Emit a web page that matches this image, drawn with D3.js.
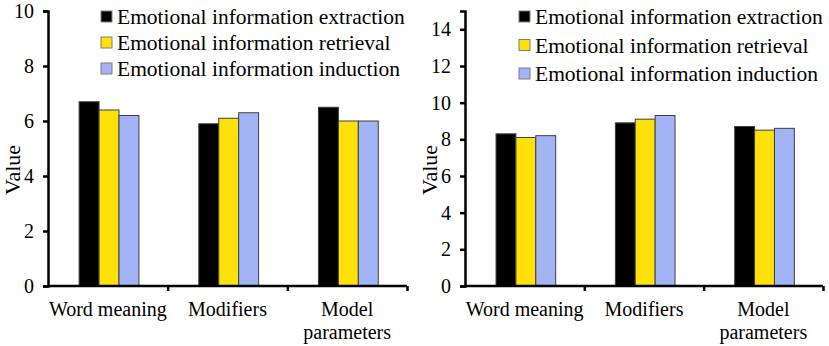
<!DOCTYPE html>
<html><head><meta charset="utf-8">
<script src="https://cdn.jsdelivr.net/npm/d3@7"></script>
<style>body{margin:0;background:#fff}svg{display:block}</style>
</head><body><svg id="c" width="829" height="346" font-family="Liberation Serif"></svg>
<script>
const categories = ["Word meaning", "Modifiers", "Model parameters"];
const seriesNames = ["Emotional information extraction", "Emotional information retrieval", "Emotional information induction"];
const leftExtraction = [6.7, 5.9, 6.5];
const leftRetrieval = [6.4, 6.1, 6.0];
const leftInduction = [6.2, 6.3, 6.0];
const rightExtraction = [8.3, 8.9, 8.7];
const rightRetrieval = [8.1, 9.1, 8.5];
const rightInduction = [8.2, 9.3, 8.6];
const leftTicks = [0, 2, 4, 6, 8, 10];
const rightTicks = [0, 2, 4, 6, 8, 10, 12, 14];
const colors = ["#000000", "#FFE10A", "#A2B4F5"];
const FONT = "Liberation Serif";

const svg = d3.select("#c");

function panel(cfg) {
  const g = svg.append("g");
  const x = d3.scaleBand().domain(categories).range([cfg.x0, cfg.x1]).padding(0);
  const sub = d3.scaleBand().domain(seriesNames).range([x.bandwidth()*0.26, x.bandwidth()*0.76]).padding(0);
  const y = d3.scaleLinear().domain(cfg.domain).range([cfg.y0, cfg.yTop]);
  const series = [cfg.a, cfg.b, cfg.c];
  series.forEach((vals, si) => {
    g.selectAll(null).data(vals).enter().append("rect")
      .attr("x", (d, i) => x(categories[i]) + sub(seriesNames[si]))
      .attr("width", sub.bandwidth())
      .attr("y", d => y(d))
      .attr("height", d => y(0) - y(d))
      .attr("fill", colors[si])
      .attr("stroke", "#404040")
      .attr("stroke-width", 1);
  });
  const ya = g.append("g").attr("transform", `translate(${cfg.x0},0)`)
    .call(d3.axisLeft(y).tickValues(cfg.ticks).tickSize(5).tickPadding(9).tickFormat(d3.format("d")))
    .attr("font-family", FONT).attr("font-size", 20);
  ya.select(".domain").attr("stroke", "#000").attr("stroke-width", 2.5);
  ya.selectAll(".tick line").attr("stroke-width", 2.5);
  ya.selectAll(".tick text").attr("fill", "#000");
  const xa = g.append("g").attr("transform", `translate(0,${cfg.y0})`)
    .call(d3.axisBottom(d3.scaleLinear().domain([0,3]).range([cfg.x0, cfg.x1])).tickValues([1,2,3]).tickSize(5).tickFormat(""));
  xa.select(".domain").attr("stroke", "#000").attr("stroke-width", 2.5).attr("d", `M${cfg.x0},0H${cfg.x1}`);
  xa.selectAll(".tick line").attr("stroke-width", 2.5);
  categories.forEach((c, i) => {
    const lines = c === "Model parameters" ? ["Model", "parameters"] : [c];
    lines.forEach((ln, li) => {
      g.append("text").attr("x", x(c) + x.bandwidth()/2).attr("y", cfg.y0 + 30 + li*23)
        .attr("text-anchor", "middle").attr("font-family", FONT).attr("font-size", 20).text(ln);
    });
  });
  g.append("text").attr("transform", `translate(${cfg.labelX},${cfg.labelY}) rotate(-90)`)
    .attr("text-anchor", "middle").attr("font-family", FONT).attr("font-size", 22).text("Value");
  seriesNames.forEach((s, i) => {
    const yy = cfg.legY + i*cfg.legDy;
    g.append("rect").attr("x", cfg.legX).attr("y", yy - 6).attr("width", 11).attr("height", 11)
      .attr("fill", colors[i]).attr("stroke", "#7f7f7f").attr("stroke-width", 1);
    g.append("text").attr("x", cfg.legX + 16).attr("y", yy + 7).attr("font-family", FONT).attr("font-size", 21.5).text(s);
  });
}

panel({x0: 48, x1: 407, y0: 286, yTop: 11, domain: [0, 10], ticks: leftTicks,
  a: leftExtraction, b: leftRetrieval, c: leftInduction,
  labelX: 20, labelY: 170, legX: 101, legY: 17, legDy: 26});
panel({x0: 465, x1: 823, y0: 286, yTop: 11, domain: [0, 15], ticks: rightTicks,
  a: rightExtraction, b: rightRetrieval, c: rightInduction,
  labelX: 437, labelY: 170, legX: 519, legY: 17, legDy: 28.5});
</script></body></html>
